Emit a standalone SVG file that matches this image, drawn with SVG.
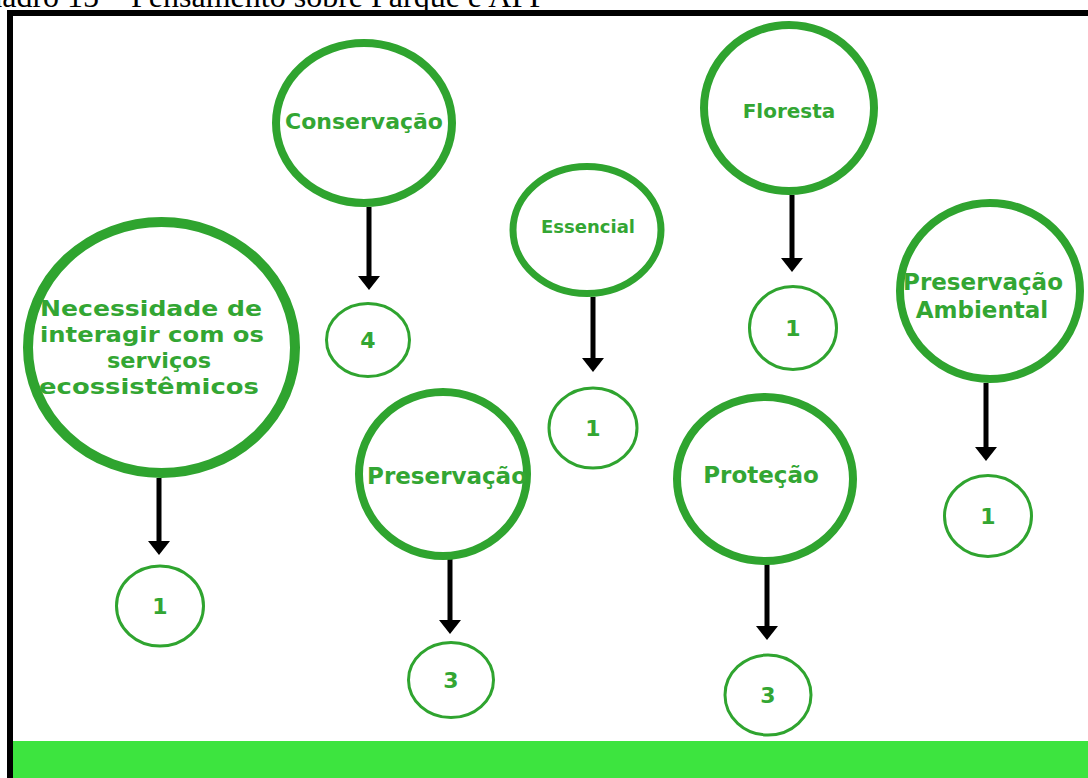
<svg xmlns="http://www.w3.org/2000/svg" width="1088" height="778" viewBox="0 0 1088 778">
<style>
.big{fill:none;stroke:#2fa42f;stroke-width:8}
.sm{fill:none;stroke:#2fa42f;stroke-width:3}
.lbl{font-family:"DejaVu Sans","Liberation Sans",sans-serif;font-weight:bold;fill:#33a633;text-anchor:middle}
.num{font-family:"DejaVu Sans","Liberation Sans",sans-serif;font-weight:bold;fill:#33a633;text-anchor:middle;font-size:22px}
.arr{stroke:#000;stroke-width:5;fill:none;marker-end:url(#ah)}
</style>
<defs>
<marker id="ah" markerUnits="userSpaceOnUse" viewBox="0 -11 14 22" refX="0" refY="0" markerWidth="14" markerHeight="22" orient="auto">
<path d="M0,-11 L14,0 L0,11 Z" fill="#000"/>
</marker>
</defs>
<rect x="0" y="0" width="1088" height="778" fill="#fff"/>
<text x="547" y="7" font-family="Liberation Serif,serif" font-size="32" text-anchor="end" fill="#000">Quadro 15 – Pensamento sobre Parque e APP</text>
<path d="M10,778 V13 H1088" fill="none" stroke="#000" stroke-width="6"/>
<rect x="13" y="741" width="1075" height="37" fill="#3de43f"/>

<g id="connectors">
<line class="arr" x1="159" y1="478" x2="159" y2="541"/>
<line class="arr" x1="369" y1="207" x2="369" y2="276"/>
<line class="arr" x1="593" y1="297" x2="593" y2="358"/>
<line class="arr" x1="792" y1="195" x2="792" y2="258"/>
<line class="arr" x1="986" y1="383" x2="986" y2="447"/>
<line class="arr" x1="450" y1="556" x2="450" y2="620"/>
<line class="arr" x1="767" y1="561" x2="767" y2="626"/>
</g>

<g id="n-necessidade">
<ellipse class="big" style="stroke-width:10" cx="161.5" cy="347.5" rx="133.5" ry="125.5"/>
<text class="lbl" font-size="22" x="151" y="316" textLength="222" lengthAdjust="spacingAndGlyphs">Necessidade de</text>
<text class="lbl" font-size="22" x="152" y="342" textLength="224" lengthAdjust="spacingAndGlyphs">interagir com os</text>
<text class="lbl" font-size="22" x="159" y="368" textLength="104" lengthAdjust="spacingAndGlyphs">serviços</text>
<text class="lbl" font-size="22" x="149" y="394" textLength="220" lengthAdjust="spacingAndGlyphs">ecossistêmicos</text>
</g>
<g id="n-necessidade-count">
<ellipse class="sm" cx="160" cy="606" rx="43.5" ry="40"/>
<text class="num" x="160" y="614">1</text>
</g>

<g id="n-conservacao">
<ellipse class="big" cx="364" cy="123" rx="88" ry="80"/>
<text class="lbl" font-size="22" x="364" y="129">Conservação</text>
</g>
<g id="n-conservacao-count">
<ellipse class="sm" cx="368" cy="340" rx="41.5" ry="36.5"/>
<text class="num" x="368" y="348">4</text>
</g>

<g id="n-essencial">
<ellipse class="big" style="stroke-width:7" cx="587" cy="230" rx="74" ry="63.5"/>
<text class="lbl" font-size="18" x="588" y="233">Essencial</text>
</g>
<g id="n-essencial-count">
<ellipse class="sm" cx="593" cy="428" rx="44" ry="40"/>
<text class="num" x="593" y="436">1</text>
</g>

<g id="n-floresta">
<ellipse class="big" cx="789" cy="108" rx="85" ry="83"/>
<text class="lbl" font-size="20" x="789" y="118">Floresta</text>
</g>
<g id="n-floresta-count">
<ellipse class="sm" cx="793" cy="328" rx="43.5" ry="41.5"/>
<text class="num" x="793" y="336">1</text>
</g>

<g id="n-preservacao-ambiental">
<ellipse class="big" cx="990" cy="291" rx="90" ry="88"/>
<text class="lbl" font-size="23"><tspan x="983" y="290">Preservação</tspan><tspan x="982" y="318">Ambiental</tspan></text>
</g>
<g id="n-preservacao-ambiental-count">
<ellipse class="sm" cx="988" cy="516" rx="43.5" ry="40.5"/>
<text class="num" x="988" y="524">1</text>
</g>

<g id="n-preservacao">
<ellipse class="big" cx="443" cy="474" rx="84" ry="82"/>
<text class="lbl" font-size="23" x="447" y="484">Preservação</text>
</g>
<g id="n-preservacao-count">
<ellipse class="sm" cx="451" cy="680" rx="42.5" ry="37.5"/>
<text class="num" x="451" y="688">3</text>
</g>

<g id="n-protecao">
<ellipse class="big" cx="765" cy="479" rx="88" ry="82"/>
<text class="lbl" font-size="23" x="761" y="483">Proteção</text>
</g>
<g id="n-protecao-count">
<ellipse class="sm" cx="768" cy="695" rx="43" ry="40"/>
<text class="num" x="768" y="703">3</text>
</g>
</svg>
